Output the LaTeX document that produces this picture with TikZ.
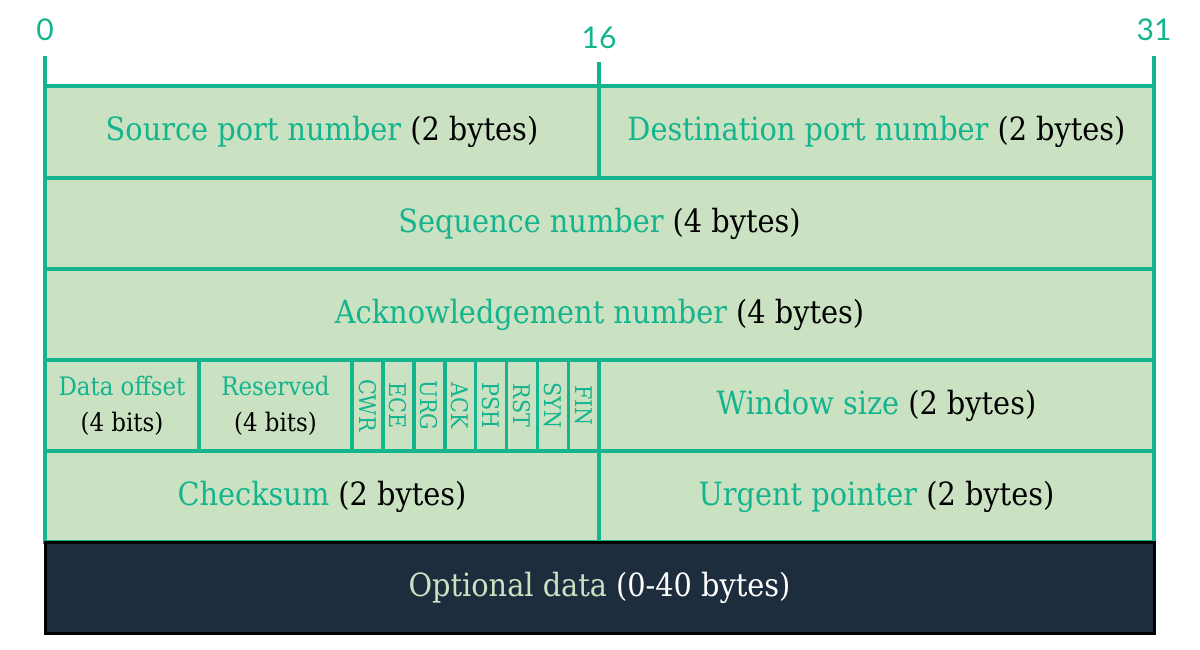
\documentclass[tikz,border=0pt]{standalone}
\usepackage{fontspec}
\setmainfont{Lato}
\newfontfamily\slab{DejaVu Serif Condensed}
\definecolor{teal}{HTML}{14B48E}
\definecolor{lightg}{HTML}{CBE2C2}
\definecolor{darkbg}{HTML}{1E2D3D}
\tikzset{
  field/.style={draw=teal, line width=3.6pt, fill=lightg, inner sep=0pt, outer sep=0pt, anchor=north west,
    font=\slab\fontsize{32}{36}\selectfont, align=center},
  smallfield/.style={field, font=\slab\fontsize{25.5}{36}\selectfont},
  flagfield/.style={field},
  flagtext/.style={rotate=-90, text=teal, font=\slab\fontsize{23}{26}\selectfont, inner sep=0pt},
  ticknum/.style={text=teal, font=\fontsize{30}{32}\selectfont, inner sep=0pt},
  tickline/.style={draw=teal, line width=3.6pt},
}
\newcommand{\fname}[1]{{\color{teal}#1}}
\begin{document}
\begin{tikzpicture}[x=1pt,y=-1pt]
\useasboundingbox (0,0) rectangle (1200,650);
% rows
\node[field, minimum width=554, minimum height=92] (src) at (45,86) {\fname{Source port number} (2 bytes)};
\node[field, minimum width=555, minimum height=92] (dst) at (599,86) {\fname{Destination port number} (2 bytes)};
\node[field, minimum width=1109, minimum height=91] (seq) at (45,178) {\fname{Sequence number} (4 bytes)};
\node[field, minimum width=1109, minimum height=91] (ack) at (45,269) {\fname{Acknowledgement number} (4 bytes)};
\node[smallfield, minimum width=154, minimum height=91] (doff) at (45,360) {\fname{Data offset}\\(4 bits)};
\node[smallfield, minimum width=153, minimum height=91] (res) at (199,360) {\fname{Reserved}\\(4 bits)};
\foreach \f [count=\i from 0] in {CWR,ECE,URG,ACK,PSH,RST,SYN,FIN}{
  \node[flagfield, minimum width=30.9, minimum height=91] (flag\i) at ({352+\i*30.9},360) {};
  \node[flagtext] (flagtxt\i) at (flag\i.center) {\f};
}
\node[field, minimum width=555, minimum height=91] (win) at (599,360) {\fname{Window size} (2 bytes)};
\node[field, minimum width=554, minimum height=91] (chk) at (45,451) {\fname{Checksum} (2 bytes)};
\node[field, minimum width=555, minimum height=91] (urg) at (599,451) {\fname{Urgent pointer} (2 bytes)};
\node[field, draw=black, line width=3pt, fill=darkbg, text=white, minimum width=1109, minimum height=91] (opt) at (45,542) {{\color{lightg}Optional data} (0-40 bytes)};
% ticks
\coordinate (t0) at (45,56);
\coordinate (t16) at (599,62);
\coordinate (t31) at (1154,56);
\draw[tickline] (t0) -- (src.north west);
\draw[tickline] (t16) -- (src.north east);
\draw[tickline] (t31) -- (dst.north east);
\node[ticknum] (n0) at (45,30) {0};
\node[ticknum] (n16) at (599,38) {16};
\node[ticknum] (n31) at (1154,30) {31};
\end{tikzpicture}
\end{document}
